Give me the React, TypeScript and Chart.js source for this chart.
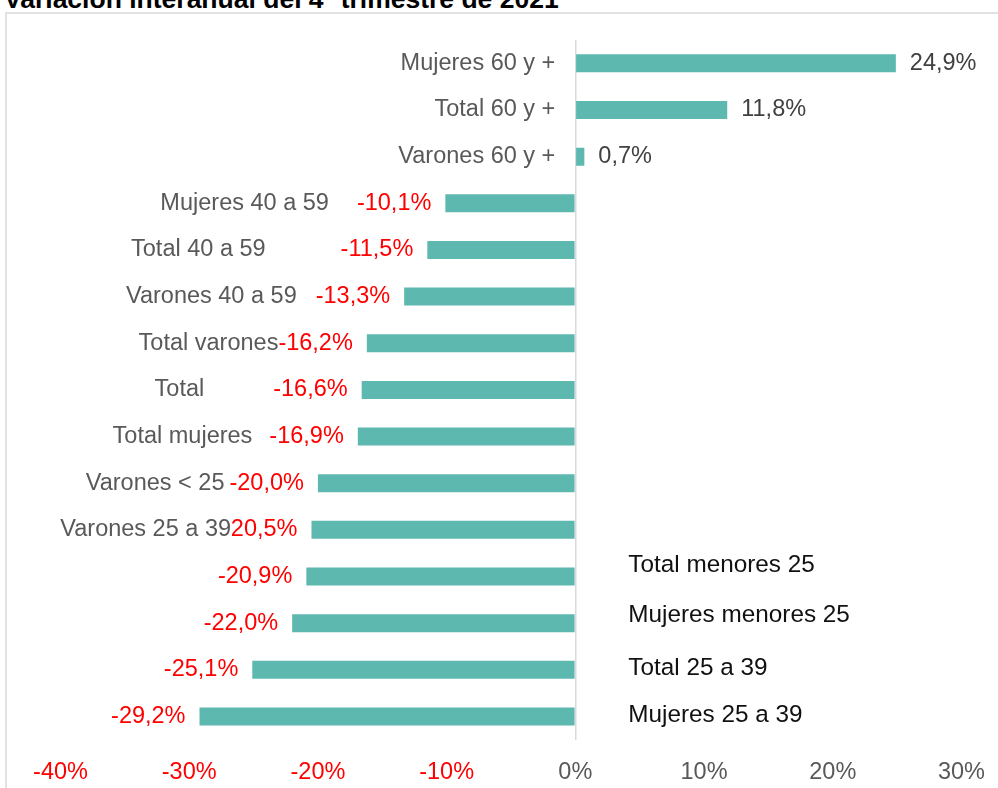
import React, { useEffect, useRef } from 'react';
import { Chart, registerables } from 'chart.js';

Chart.register(...registerables);

const titleText = 'Variación interanual del 4º trimestre de 2021';

const categories = [
  'Mujeres 60 y +',
  'Total 60 y +',
  'Varones 60 y +',
  'Mujeres 40 a 59',
  'Total 40 a 59',
  'Varones 40 a 59',
  'Total varones',
  'Total',
  'Total mujeres',
  'Varones < 25',
  'Varones 25 a 39',
  'Total menores 25',
  'Mujeres menores 25',
  'Total 25 a 39',
  'Mujeres 25 a 39',
];

const values = [24.9, 11.8, 0.7, -10.1, -11.5, -13.3, -16.2, -16.6, -16.9, -20.0, -20.5, -20.9, -22.0, -25.1, -29.2];

const xMin = -40;
const xMax = 30;
const xStep = 10;

// Placement of the category names (layout only): next to the axis, left of the value label, or in the right side box
const labelLayout = [
  { place: 'axis', gap: 20, dy: 0 },
  { place: 'axis', gap: 20, dy: 0 },
  { place: 'axis', gap: 20, dy: 0 },
  { place: 'value', gap: 28, dy: 0 },
  { place: 'value', gap: 75, dy: 0 },
  { place: 'value', gap: 19, dy: 0 },
  { place: 'value', gap: 0, dy: 0 },
  { place: 'value', gap: 69, dy: 0 },
  { place: 'value', gap: 17, dy: 0 },
  { place: 'value', gap: 5, dy: 0 },
  { place: 'value', gap: -8, dy: 0 },
  { place: 'right', gap: 53, dy: -11 },
  { place: 'right', gap: 53, dy: -8 },
  { place: 'right', gap: 53, dy: -2 },
  { place: 'right', gap: 53, dy: -1 },
];

const FONT_FAMILY = '"Liberation Sans", Arial, sans-serif';
const FONT_SIZE = 23.5;
const RIGHT_FONT_SIZE = 24.3;
const BAR_COLOR = '#5DB8B0';

const fmt = (v: number) => v.toFixed(1).replace('.', ',') + '%';

const labelsPlugin = {
  id: 'barLabels',
  afterDatasetsDraw(chart: any) {
    const ctx = chart.ctx as CanvasRenderingContext2D;
    const meta = chart.getDatasetMeta(0);
    const zeroX = chart.scales.x.getPixelForValue(0);
    ctx.save();
    ctx.textBaseline = 'middle';
    meta.data.forEach((el: any, i: number) => {
      ctx.font = `${FONT_SIZE}px ${FONT_FAMILY}`;
      const v = values[i];
      const txt = fmt(v);
      const w = ctx.measureText(txt).width;
      let valLeft: number;
      if (v >= 0) {
        ctx.textAlign = 'left';
        ctx.fillStyle = '#404040';
        ctx.fillText(txt, el.x + 14, el.y);
        valLeft = el.x + 14;
      } else {
        ctx.textAlign = 'right';
        ctx.fillStyle = '#FF0000';
        ctx.fillText(txt, el.x - 14, el.y);
        valLeft = el.x - 14 - w;
      }
      const lay = labelLayout[i];
      const name = categories[i];
      if (lay.place === 'right') ctx.font = `${RIGHT_FONT_SIZE}px ${FONT_FAMILY}`;
      const nw = ctx.measureText(name).width;
      let left: number;
      if (lay.place === 'axis') left = zeroX - lay.gap - nw;
      else if (lay.place === 'value') left = valLeft - lay.gap - nw;
      else left = zeroX + lay.gap;
      const y = el.y + lay.dy;
      if (lay.place === 'value') {
        ctx.fillStyle = '#ffffff';
        ctx.fillRect(left, y - 12, nw, 24);
      }
      ctx.textAlign = 'left';
      ctx.fillStyle = lay.place === 'right' ? '#111111' : '#595959';
      ctx.fillText(name, left, y);
    });
    ctx.restore();
  },
};

export default function App() {
  const canvasRef = useRef<HTMLCanvasElement | null>(null);

  useEffect(() => {
    if (!canvasRef.current) return;
    Chart.defaults.font.family = FONT_FAMILY;
    const chart = new Chart(canvasRef.current, {
      type: 'bar',
      data: {
        labels: categories,
        datasets: [
          {
            data: values,
            backgroundColor: BAR_COLOR,
            borderWidth: 0,
            barPercentage: 0.386,
            categoryPercentage: 1,
          },
        ],
      },
      options: {
        indexAxis: 'y',
        animation: false,
        responsive: false,
        devicePixelRatio: 1,
        layout: { padding: { left: 60.5, right: 20, top: 40, bottom: 0 } },
        plugins: { legend: { display: false }, tooltip: { enabled: false }, title: { display: false } },
        scales: {
          x: {
            min: xMin,
            max: xMax,
            border: { display: false },
            grid: {
              drawTicks: false,
              lineWidth: 1.5,
              color: (c: any) => (c.tick && c.tick.value === 0 ? '#d9d9d9' : 'rgba(0,0,0,0)'),
            },
            ticks: {
              stepSize: xStep,
              padding: 19,
              font: { size: FONT_SIZE, family: FONT_FAMILY },
              color: (c: any) => (c.tick && c.tick.value < 0 ? '#FF0000' : '#595959'),
              callback: (v: any) => `${v}%`,
            },
          },
          y: { display: false },
        },
      },
      plugins: [labelsPlugin],
    });
    return () => chart.destroy();
  }, []);

  return (
    <div style={{ position: 'absolute', left: 0, top: 0, width: 998, height: 788, overflow: 'hidden', background: '#ffffff' }}>
      <div
        style={{
          position: 'absolute',
          left: 5,
          top: 12,
          width: 1100,
          height: 900,
          border: '2px solid #e2e2e2',
          boxSizing: 'border-box',
        }}
      />
      <div
        style={{
          position: 'absolute',
          left: 4,
          top: -14,
          font: `bold 26.5px ${FONT_FAMILY}`,
          lineHeight: '26.5px',
          whiteSpace: 'nowrap',
          color: '#000',
        }}
      >
        {titleText}
      </div>
      <canvas ref={canvasRef} width={1004} height={806} style={{ position: 'absolute', left: 0, top: 0 }} />
    </div>
  );
}
